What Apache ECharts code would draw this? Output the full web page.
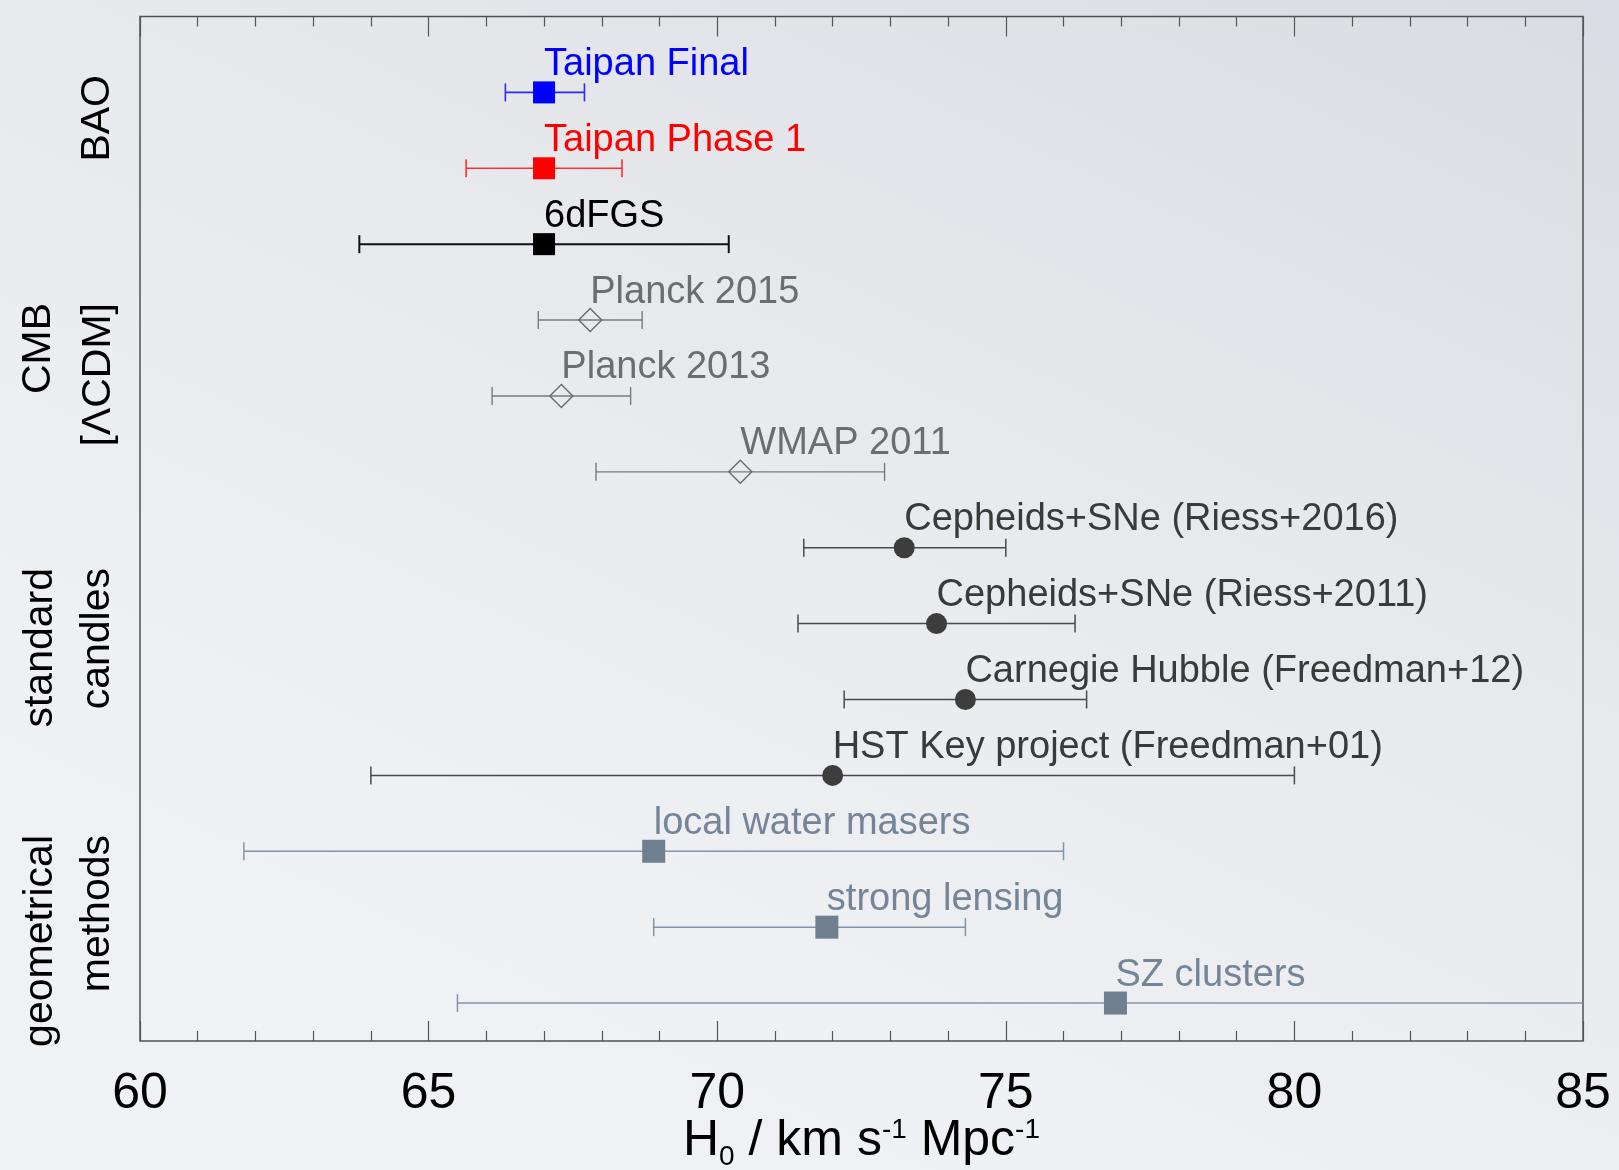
<!DOCTYPE html>
<html>
<head>
<meta charset="utf-8">
<title>H0 measurements</title>
<script src="https://cdn.jsdelivr.net/npm/echarts@6/dist/echarts.min.js"></script>
<style>
  html, body { margin: 0; padding: 0; }
  #chart {
    width: 1619px;
    height: 1170px;
    background: linear-gradient(205deg, #d9dce2 0%, #e6e8ec 35%, #eef0f3 70%, #f1f2f5 100%);
  }
</style>
</head>
<body>
<div id="chart"></div>
<script>
// measurements, top row first
const labels = [
  'Taipan Final',
  'Taipan Phase 1',
  '6dFGS',
  'Planck 2015',
  'Planck 2013',
  'WMAP 2011',
  'Cepheids+SNe (Riess+2016)',
  'Cepheids+SNe (Riess+2011)',
  'Carnegie Hubble (Freedman+12)',
  'HST Key project (Freedman+01)',
  'local water masers',
  'strong lensing',
  'SZ clusters'
]
const h0 = [67.0, 67.0, 67.0, 67.8, 67.3, 70.4, 73.24, 73.8, 74.3, 72.0, 68.9, 71.9, 76.9]
const errLow = [66.33, 65.65, 63.8, 66.9, 66.1, 67.9, 71.5, 71.4, 72.2, 64.0, 61.8, 68.9, 65.5]
const errHigh = [67.7, 68.35, 70.2, 68.7, 68.5, 72.9, 75.0, 76.2, 76.4, 80.0, 76.0, 74.3, 88.3]
const xTicks = [60, 65, 70, 75, 80, 85]

// look of each row (kept apart from the values)
const styles = {
  final:   { marker: 'square',  size: 22, line: '#2a2aff', fill: '#0000ff', text: '#0000ff', lw: 1.6 },
  phase1:  { marker: 'square',  size: 22, line: '#ff3030', fill: '#ff0000', text: '#ff0000', lw: 1.6 },
  sixdf:   { marker: 'square',  size: 22, line: '#111111', fill: '#000000', text: '#000000', lw: 2 },
  cmb:     { marker: 'diamond', size: 23, line: '#7a7a7a', fill: '#6a6a6a', text: '#6d6d6d', lw: 1.4 },
  candles: { marker: 'circle',  size: 21, line: '#4a4a4a', fill: '#3d3d3d', text: '#3a3a3a', lw: 1.5 },
  geo:     { marker: 'square',  size: 23, line: '#8494a5', fill: '#6f7f90', text: '#758597', lw: 1.5 }
}
const rowStyle = ['final', 'phase1', 'sixdf', 'cmb', 'cmb', 'cmb',
  'candles', 'candles', 'candles', 'candles', 'geo', 'geo', 'geo']

const FONT = "'Liberation Sans', Arial, Helvetica, sans-serif"
const nRows = labels.length
const yMax = nRows + 0.5

const data = labels.map((name, i) => [h0[i], errLow[i], errHigh[i], nRows - 0.5 - i, name])

function renderRow(params, api) {
  const st = styles[rowStyle[params.dataIndex]]
  const row = api.value(3)
  const c = api.coord([api.value(0), row])
  const lo = api.coord([api.value(1), row])
  const hi = api.coord([api.value(2), row])
  const cs = params.coordSys
  const left = Math.max(lo[0], cs.x)
  const right = Math.min(hi[0], cs.x + cs.width)
  const y = c[1]
  const cap = 9
  const lineStyle = { stroke: st.line, lineWidth: st.lw }
  const children = [
    { type: 'line', shape: { x1: left, y1: y, x2: right, y2: y }, style: lineStyle }
  ]
  if (lo[0] >= cs.x) {
    children.push({ type: 'line', shape: { x1: left, y1: y - cap, x2: left, y2: y + cap }, style: lineStyle })
  }
  if (hi[0] <= cs.x + cs.width) {
    children.push({ type: 'line', shape: { x1: right, y1: y - cap, x2: right, y2: y + cap }, style: lineStyle })
  }
  const h = st.size / 2
  if (st.marker === 'square') {
    children.push({ type: 'rect', shape: { x: c[0] - h, y: y - h, width: st.size, height: st.size }, style: { fill: st.fill } })
  } else if (st.marker === 'circle') {
    children.push({ type: 'circle', shape: { cx: c[0], cy: y, r: h }, style: { fill: st.fill } })
  } else {
    children.push({
      type: 'polygon',
      shape: { points: [[c[0], y - h], [c[0] + h, y], [c[0], y + h], [c[0] - h, y]] },
      style: { fill: 'none', stroke: st.fill, lineWidth: 1.4 }
    })
  }
  children.push({
    type: 'text',
    x: c[0],
    y: y - 28,
    style: {
      text: api.value(4),
      fill: st.text,
      fontSize: 38,
      fontFamily: FONT,
      align: 'left',
      verticalAlign: 'middle'
    }
  })
  return { type: 'group', children: children }
}

// group names on the left, two-line groups have their line ends aligned
function sideLabel(text, x, yEnd) {
  return {
    type: 'text',
    x: x,
    y: yEnd,
    rotation: Math.PI / 2,
    style: {
      text: text,
      fill: '#000',
      fontSize: 41,
      fontFamily: FONT,
      align: 'right',
      verticalAlign: 'middle'
    }
  }
}

const xAxisBase = {
  type: 'value',
  min: xTicks[0],
  max: xTicks[xTicks.length - 1],
  interval: 5,
  axisLine: { show: false },
  splitLine: { show: false },
  axisTick: { show: true, inside: true, length: 20, lineStyle: { color: '#555', width: 1.2 } },
  minorTick: { show: true, splitNumber: 5, length: 10, lineStyle: { color: '#555', width: 1.2 } }
}

const chart = echarts.init(document.getElementById('chart'))
chart.setOption({
  backgroundColor: 'transparent',
  animation: false,
  grid: {
    left: 140,
    right: 36,
    top: 16.5,
    bottom: 129,
    containLabel: false,
    outerBoundsMode: 'none',
    show: true,
    borderColor: '#505050',
    borderWidth: 1.5,
    backgroundColor: 'transparent'
  },
  xAxis: [
    Object.assign({}, xAxisBase, {
      position: 'bottom',
      axisLabel: { show: true, fontSize: 50, color: '#000', fontFamily: FONT, margin: 28 },
      name: '{n|H}{sub|0}{n| / km s}{sup|-1}{n| Mpc}{sup|-1}',
      nameLocation: 'middle',
      nameGap: 70,
      nameMoveOverlap: false,
      nameTextStyle: {
        fontFamily: FONT,
        rich: {
          n: { fontSize: 50, lineHeight: 60, color: '#000', fontFamily: FONT },
          sup: { fontSize: 28, lineHeight: 28, verticalAlign: 'top', padding: [5, 0, 0, 0], color: '#000', fontFamily: FONT },
          sub: { fontSize: 28, lineHeight: 28, verticalAlign: 'top', padding: [32, 0, 0, 0], color: '#000', fontFamily: FONT }
        }
      }
    }),
    Object.assign({}, xAxisBase, {
      position: 'top',
      axisLabel: { show: false }
    })
  ],
  yAxis: {
    type: 'value',
    min: 0,
    max: yMax,
    show: false
  },
  series: [
    {
      type: 'custom',
      xAxisIndex: 0,
      yAxisIndex: 0,
      renderItem: renderRow,
      encode: { x: [0, 1, 2], y: 3 },
      data: data,
      z: 10
    }
  ],
  graphic: [
    sideLabel('BAO', 98, 75),
    sideLabel('CMB', 39, 303),
    sideLabel('[ΛCDM]', 99, 303),
    sideLabel('standard', 41, 568),
    sideLabel('candles', 98, 568),
    sideLabel('geometrical', 41, 835),
    sideLabel('methods', 98, 835)
  ]
})
</script>
</body>
</html>
